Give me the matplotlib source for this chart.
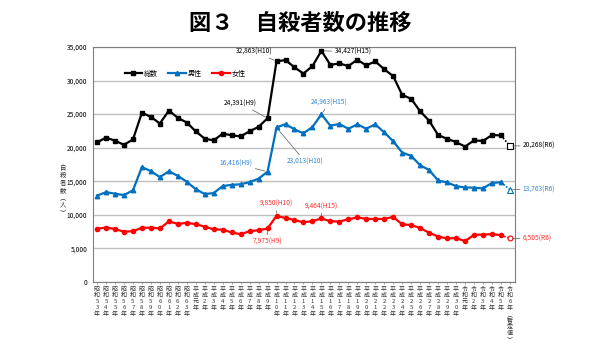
import matplotlib.pyplot as plt

plt.rcParams['font.family'] = ['Noto Sans CJK JP', 'DejaVu Sans']

# 昭和53年 (1978) ～ 令和6年 (2024, 暫定値)
labels = (
    [f'昭和{n}年' for n in range(53, 64)]
    + ['平成元年'] + [f'平成{n}年' for n in range(2, 31)]
    + ['令和元年'] + [f'令和{n}年' for n in range(2, 6)]
    + ['令和6年︵暫定値︶']
)

total = [20788, 21503, 21048, 20434, 21228, 25202, 24596, 23599, 25524, 24460,
         23742, 22436, 21346, 21084, 22104, 21851, 21679, 22445, 23104, 24391,
         32863, 33048, 31957, 31042, 32143, 34427, 32325, 32552, 32155, 33093,
         32249, 32845, 31690, 30651, 27858, 27283, 25427, 24025, 21897, 21321,
         20840, 20169, 21081, 21007, 21881, 21837, 20268]
male = [12859, 13386, 13155, 12942, 13654, 17116, 16508, 15624, 16497, 15802,
        14934, 13818, 13102, 13242, 14296, 14468, 14560, 14874, 15393, 16416,
        23013, 23512, 22727, 22144, 23080, 24963, 23272, 23540, 22813, 23478,
        22831, 23472, 22283, 20955, 19273, 18787, 17386, 16681, 15121, 14826,
        14290, 14078, 14055, 13939, 14746, 14862, 13763]
female = [7929, 8117, 7893, 7492, 7574, 8086, 8088, 7975, 9027, 8658,
          8808, 8618, 8244, 7842, 7808, 7383, 7119, 7571, 7711, 7975,
          9850, 9536, 9230, 8898, 9063, 9464, 9053, 9012, 9342, 9615,
          9418, 9373, 9407, 9696, 8585, 8496, 8041, 7344, 6776, 6495,
          6550, 6091, 7026, 7068, 7135, 6975, 6505]

series = [
    ('総数', total, 'black', 's', 3.2),
    ('男性', male, '#0070C0', '^', 3.2),
    ('女性', female, '#FF0000', 'o', 3.0),
]

fig = plt.figure(figsize=(6, 3.53), dpi=100)
ax = fig.add_axes([0.155, 0.201, 0.703, 0.666])

x = list(range(len(labels)))
for name, vals, col, mk, ms in series:
    ax.plot(x[:-1], vals[:-1], color=col, lw=1.6, marker=mk, ms=ms, label=name)
    ax.plot(x[-2:], vals[-2:], color=col, lw=1.2, ls=(0, (1, 1)))
    ax.plot(x[-1], vals[-1], color=col, marker=mk, ms=ms + 0.5, mfc='white', mew=0.8)

fig.text(0.5, 0.935, '図３　自殺者数の推移', ha='center', va='center',
         fontsize=16, fontweight='bold')

ax.set_ylim(0, 35000)
ax.set_xlim(-0.45, len(labels) - 0.45)
ax.set_yticks(range(0, 35001, 5000))
ax.set_yticklabels([f'{v:,}' for v in range(0, 35001, 5000)], fontsize=4.8)
ax.yaxis.grid(True, color='#BFBFBF', lw=1)
ax.set_axisbelow(True)
ax.tick_params(axis='y', length=0, pad=4)
ax.set_xticks(x)
ax.set_xticklabels([])
ax.tick_params(axis='x', length=1.5, width=0.5, color='gray')
for s in ax.spines.values():
    s.set_color('#7F7F7F')
    s.set_linewidth(0.8)

# vertical (tategaki) tick labels, one character per row
for i, lab in enumerate(labels):
    for k, ch in enumerate(lab):
        ax.annotate(ch, xy=(i, 0), xytext=(0, -7 - 6.3 * k),
                    textcoords='offset pixels', ha='center', va='center',
                    fontsize=4.3, color='#333333', annotation_clip=False)

for k, ch in enumerate('自殺者数︵人︶'):
    fig.text(63 / 600, 1 - (168 + 7.3 * k) / 353, ch, ha='center', va='center',
             fontsize=4.6, color='#333333')

ax.legend(loc='upper left', bbox_to_anchor=(0.06, 0.93), ncol=3, frameon=False,
          fontsize=5, handlelength=2.5, columnspacing=1.5, handletextpad=0.3)

ann = [
    (20, total, '32,863(H10)', (-4, 10), 'right', 'black'),
    (25, total, '34,427(H15)', (13, -1), 'left', 'black'),
    (19, total, '24,391(H9)', (-11, 15), 'right', 'black'),
    (46, total, '20,268(R6)', (13, 0), 'left', 'black'),
    (19, male, '16,416(H9)', (-15, 8), 'right', '#2E86D6'),
    (20, male, '23,013(H10)', (10, -34), 'left', '#2E86D6'),
    (25, male, '24,963(H15)', (8, 12), 'center', '#2E86D6'),
    (46, male, '13,763(R6)', (13, 0), 'left', '#2E86D6'),
    (20, female, '9,850(H10)', (0, 12), 'center', '#FF3030'),
    (19, female, '7,975(H9)', (0, -13), 'center', '#FF3030'),
    (25, female, '9,464(H15)', (0, 12), 'center', '#FF3030'),
    (46, female, '6,505(R6)', (13, 0), 'left', '#FF3030'),
]
for i, vals, txt, off, ha, col in ann:
    ax.annotate(txt, xy=(i, vals[i]), xytext=off, textcoords='offset pixels',
                ha=ha, va='center', fontsize=4.8, color=col,
                arrowprops=dict(arrowstyle='-', color='#595959', lw=0.5,
                                shrinkA=0, shrinkB=2))

fig.savefig('out.png', dpi=100)
